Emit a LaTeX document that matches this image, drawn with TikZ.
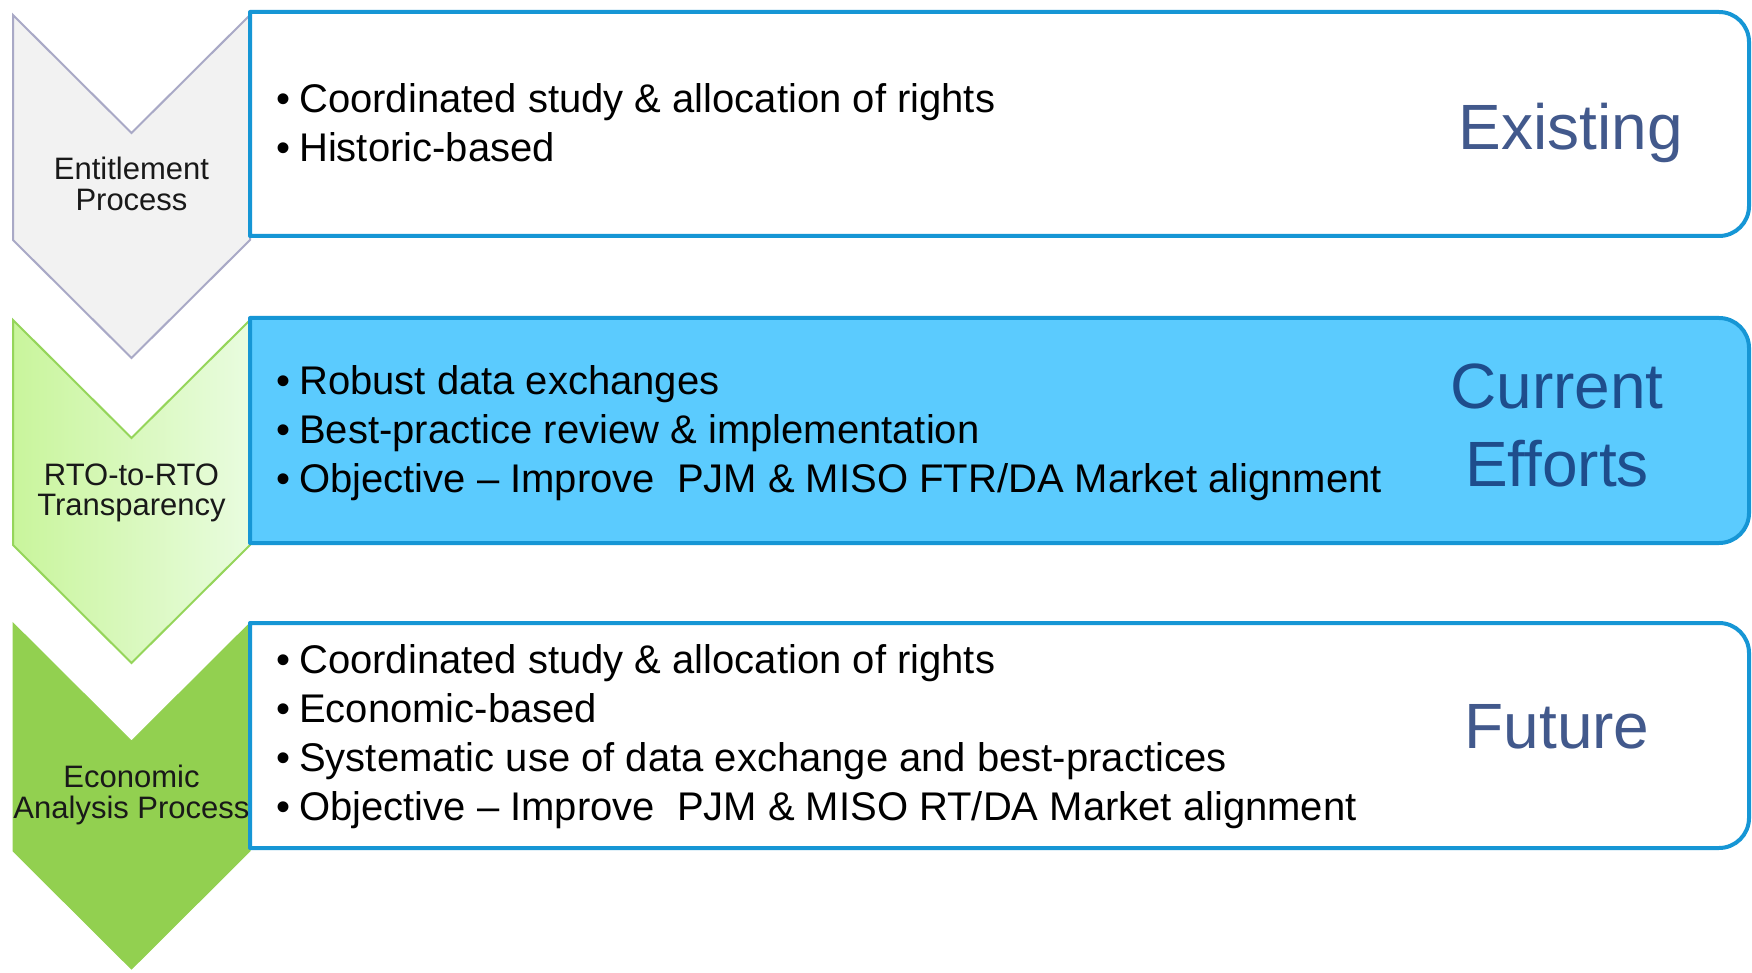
\documentclass[tikz,border=0pt]{standalone}
\usepackage{fontspec}
\setmainfont{Liberation Sans}
\begin{document}
\begin{tikzpicture}[x=1pt,y=-1pt,
  chevgray/.style={fill=chevfillA,draw=chevlineA,line width=2pt,line join=miter},
  chevlight/.style={left color=chevBl,right color=chevBr,draw=chevlineB,line width=2pt},
  chevdark/.style={fill=chevfillC,draw=chevfillC,line width=1pt},
  boxline/.style={draw=boxblue,line width=4pt,line join=round},
  chevtext/.style={inner sep=0pt,anchor=base,text=black!90,font=\fontsize{31}{30}\selectfont},
  bullettext/.style={inner sep=0pt,anchor=base west,text=black,font=\fontsize{40}{49}\selectfont},
  phasetext/.style={inner sep=0pt,anchor=base,font=\fontsize{64}{78}\selectfont}]
\definecolor{chevfillA}{HTML}{F2F2F2}
\definecolor{chevlineA}{HTML}{A9A9C6}
\definecolor{chevBl}{HTML}{C9F59C}
\definecolor{chevBr}{HTML}{E9FCDF}
\definecolor{chevlineB}{HTML}{95D55A}
\definecolor{chevfillC}{HTML}{92D050}
\definecolor{boxblue}{HTML}{1696D5}
\definecolor{boxfill}{HTML}{5BCBFE}
\definecolor{phaseA}{HTML}{42598C}
\definecolor{phaseB}{HTML}{1E4D8C}
\useasboundingbox (0,0) rectangle (1752,973);
\fill[white] (0,0) rectangle (1752,973);
% chevrons
\draw[chevgray] (13,15) -- (131.5,133) -- (250,15) -- (250,240) -- (131.5,358) -- (13,240) -- cycle;
\draw[chevlight] (13,320) -- (131.5,438) -- (250,320) -- (250,545) -- (131.5,663) -- (13,545) -- cycle;
\draw[chevdark] (13,623) -- (131.5,741) -- (250,623) -- (250,851) -- (131.5,969) -- (13,851) -- cycle;
% boxes
\draw[boxline,fill=white] (250,236) -- (250,12) -- (1719,12) .. controls (1735.6,12) and (1749,25.4) .. (1749,42)
  -- (1749,206) .. controls (1749,222.6) and (1735.6,236) .. (1719,236) -- cycle;
\draw[boxline,fill=boxfill] (250,543) -- (250,318) -- (1719,318) .. controls (1735.6,318) and (1749,331.4) .. (1749,348)
  -- (1749,513) .. controls (1749,529.6) and (1735.6,543) .. (1719,543) -- cycle;
\draw[boxline,fill=white] (250,848) -- (250,623) -- (1719,623) .. controls (1735.6,623) and (1749,636.4) .. (1749,653)
  -- (1749,818) .. controls (1749,834.6) and (1735.6,848) .. (1719,848) -- cycle;
% chevron labels
\node[chevtext] (c1) at (131.5,180) {\begin{tabular}[t]{@{}c@{}}Entitlement\\Process\end{tabular}};
\node[chevtext] (c2) at (131.5,485) {\begin{tabular}[t]{@{}c@{}}RTO-to-RTO\\Transparency\end{tabular}};
\node[chevtext] (c3) at (131.5,787) {\begin{tabular}[t]{@{}c@{}}Economic\\Analysis Process\end{tabular}};
% bullet lists
\node[bullettext] (l1) at (276,113) {\begin{tabular}[t]{@{}l@{\hspace{9pt}}l@{}}
\textbullet & Coordinated study \& allocation of rights\\
\textbullet & Historic-based\end{tabular}};
\node[bullettext] (l2) at (276,394) {\begin{tabular}[t]{@{}l@{\hspace{9pt}}l@{}}
\textbullet & Robust data exchanges\\
\textbullet & Best-practice review \& implementation\\
\textbullet & Objective -- Improve \ PJM \& MISO FTR/DA Market alignment\end{tabular}};
\node[bullettext] (l3) at (276,673) {\begin{tabular}[t]{@{}l@{\hspace{9pt}}l@{}}
\textbullet & Coordinated study \& allocation of rights\\
\textbullet & Economic-based\\
\textbullet & Systematic use of data exchange and best-practices\\
\textbullet & Objective -- Improve \ PJM \& MISO RT/DA Market alignment\end{tabular}};
% phase labels
\node[phasetext,text=phaseA] (p1) at (1571,150) {Existing};
\node[phasetext,text=phaseB] (p2) at (1557,408) {\begin{tabular}[t]{@{}c@{}}Current\\Efforts\end{tabular}};
\node[phasetext,text=phaseA] (p3) at (1557,748) {Future};
\end{tikzpicture}
\end{document}
